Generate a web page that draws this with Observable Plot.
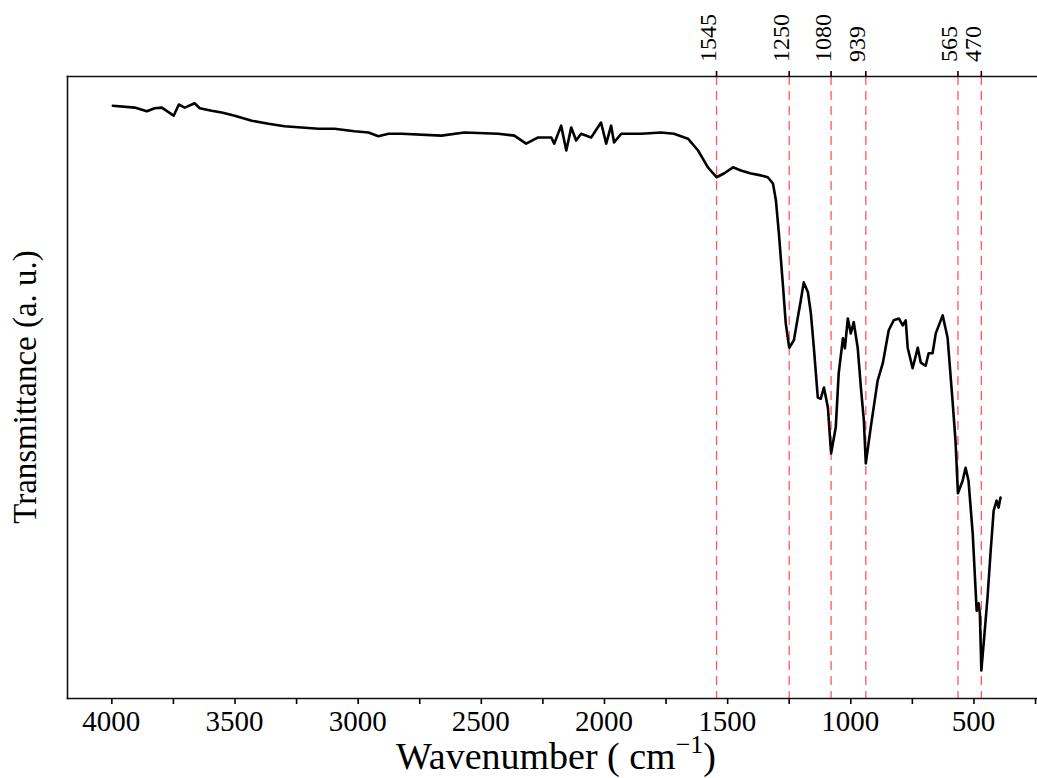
<!DOCTYPE html>
<html><head><meta charset="utf-8">
<script src="https://cdn.jsdelivr.net/npm/d3@7"></script>
<script src="https://cdn.jsdelivr.net/npm/@observablehq/plot@0.6"></script>
<style>
body{margin:0;background:#fff;overflow:hidden}
svg{display:block}
</style>
</head><body><div id="chart"></div>
<script>
const wavenumber = [3996,3907,3858,3826,3797,3749,3728,3704,3664,3643,
3595,3554,3501,3432,3364,3299,3230,3161,3096,3015,
2958,2918,2877,2824,2662,2569,2431,2366,2318,2269,
2216,2204,2176,2155,2135,2115,2095,2054,2014,1993,
1973,1961,1932,1851,1770,1718,1661,1620,1580,1545,
1515,1478,1446,1405,1365,1337,1316,1304,1292,1276,
1264,1250,1231,1215,1203,1191,1174,1162,1150,1134,
1122,1109,1093,1080,1061,1049,1032,1024,1012,1000,
988,972,959,947,939,919,891,870,846,826,
805,789,777,769,749,728,716,696,684,668,
655,627,607,587,575,565,546,534,522,505,
489,481,476,470,457,445,432,420,408,400,392];
const transmittance = [95.3,95.0,94.4,94.9,95.0,93.7,95.5,95.0,95.7,94.9,
94.5,94.2,93.7,92.9,92.4,92.0,91.8,91.6,91.6,91.2,
91.0,90.4,90.8,90.8,90.5,91.0,90.8,90.5,89.2,90.2,
90.2,89.2,92.1,88.1,91.8,89.7,90.8,90.2,92.6,89.2,
92.1,89.4,90.8,90.8,91.0,90.8,90.0,88.1,85.4,83.8,
84.4,85.4,84.9,84.4,84.1,83.8,82.8,80.1,74.8,66.7,
60.3,56.4,57.6,61.3,64.0,66.9,65.3,61.9,56.4,48.4,
48.2,50.0,46.8,39.4,43.6,52.3,57.9,56.3,61.1,58.7,
60.5,56.4,50.0,44.7,37.8,43.6,51.1,53.9,59.2,60.8,
61.1,60.0,60.8,56.4,53.1,56.4,54.0,53.5,55.5,55.5,
58.7,61.6,58.0,47.9,41.5,33.0,35.0,37.1,35.0,26.5,
14.1,15.3,13.7,4.5,10.5,16.2,23.8,30.2,31.8,30.7,32.3];
const peaks = [1545, 1250, 1080, 939, 565, 470];
const bottomTicks = [4000,3750,3500,3250,3000,2750,2500,2250,2000,1750,1500,1250,1000,750,500,250];
const labeledTicks = [4000,3500,3000,2500,2000,1500,1000,500];
const xTitle = "Wavenumber ( cm";
const xTitleSup = "−1";
const xTitleEnd = ")";
const yTitle = "Transmittance (a. u.)";

const spectrum = wavenumber.map((w, i) => ({w, t: transmittance[i]}));
const font = "Liberation Serif";

const chart = Plot.plot({
  width: 1037, height: 778,
  marginLeft: 67, marginRight: 0, marginTop: 76, marginBottom: 80,
  style: {fontFamily: font, background: "#fff", color: "#000"},
  x: {domain: [4180, 242], axis: null},
  y: {domain: [0, 100], axis: null},
  marks: [
    Plot.ruleX(peaks, {stroke: "#ff5a5a", strokeWidth: 1.3, strokeDasharray: "9,6"}),
    Plot.line(spectrum, {x: "w", y: "t", stroke: "#000", strokeWidth: 2.6}),
    Plot.frame({anchor: "left", stroke: "#111", strokeWidth: 1.6}),
    Plot.frame({anchor: "top", stroke: "#111", strokeWidth: 1.6}),
    Plot.frame({anchor: "bottom", stroke: "#111", strokeWidth: 1.6}),
    Plot.axisX(bottomTicks, {anchor: "bottom", tickSize: 6, strokeWidth: 1.6, tickFormat: () => "", label: null}),
    Plot.axisX(peaks, {anchor: "top", tickSize: 6, strokeWidth: 1.6, tickFormat: () => "", label: null})
  ]
});
document.getElementById("chart").appendChild(chart);

const svg = d3.select(chart);
const sx = chart.scale("x");

// bottom tick labels placed through Plot's x scale
svg.append("g").selectAll("text").data(labeledTicks).join("text")
  .attr("x", d => sx.apply(d)).attr("y", 731)
  .attr("text-anchor", "middle")
  .attr("font-family", font).attr("font-size", 29).attr("fill", "#000")
  .text(d => String(d));

// rotated peak labels on top
svg.append("g").selectAll("text").data(peaks).join("text")
  .attr("transform", d => `translate(${sx.apply(d)},62) rotate(-90)`)
  .attr("text-anchor", "start")
  .attr("font-family", font).attr("font-size", 24).attr("fill", "#000")
  .text(d => String(d));

const xt = svg.append("text")
  .attr("x", 556).attr("y", 769)
  .attr("text-anchor", "middle")
  .attr("font-family", font).attr("font-size", 38).attr("fill", "#000");
xt.append("tspan").text(xTitle);
xt.append("tspan").attr("font-size", 26).attr("dy", -16).text(xTitleSup);
xt.append("tspan").attr("dy", 16).text(xTitleEnd);

svg.append("text")
  .attr("transform", "translate(36,387) rotate(-90)")
  .attr("text-anchor", "middle")
  .attr("font-family", font).attr("font-size", 33).attr("fill", "#000")
  .text(yTitle);
</script>
</body></html>
